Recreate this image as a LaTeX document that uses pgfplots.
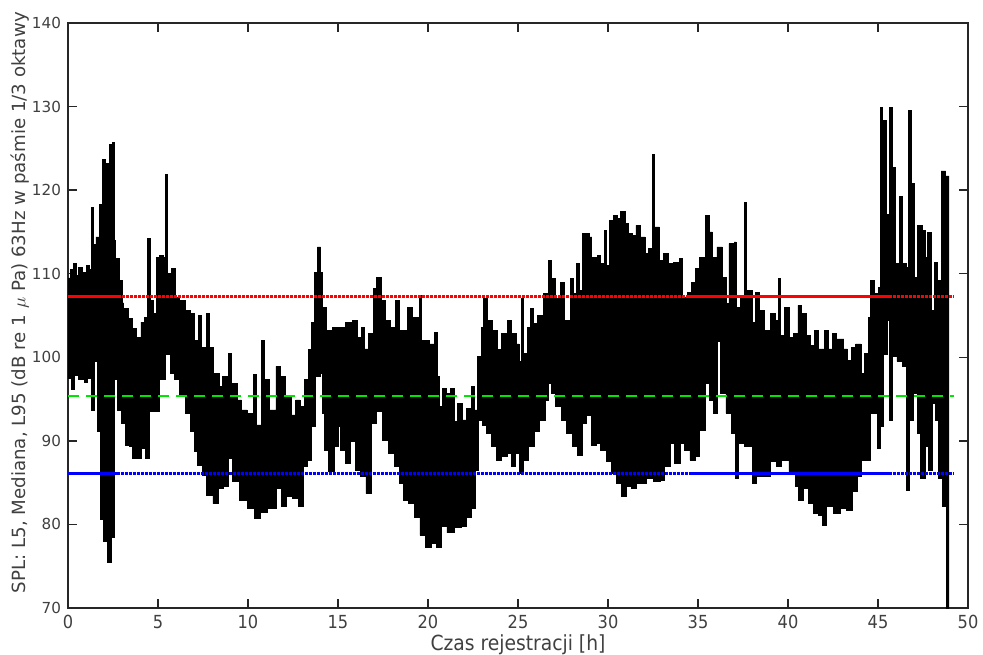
\documentclass[border=0pt]{standalone}
\usepackage{pgfplots}
\pgfplotsset{compat=1.18}
\usepackage{pgfplotstable}
\usepgfplotslibrary{fillbetween}
\usepackage{fontspec}
\setmainfont{DejaVu Sans}
\newfontfamily\condfont{DejaVu Sans Condensed}
\definecolor{txt}{HTML}{404040}
\definecolor{axc}{HTML}{262626}
\definecolor{gr}{HTML}{00E600}

\pgfplotstableread{
h v
0.00 109.5
0.15 110.5
0.30 111.2
0.45 109.8
0.60 110.8
0.80 110.2
1.00 111.0
1.20 110.5
1.30 117.9
1.40 113.5
1.55 114.4
1.75 118.3
1.85 116.0
1.90 123.7
2.05 117.0
2.15 123.2
2.30 125.5
2.45 125.7
2.55 114.0
2.65 111.8
2.85 109.2
3.00 106.5
3.10 105.8
3.35 104.6
3.55 103.4
3.80 102.4
4.05 104.2
4.25 104.8
4.40 114.2
4.55 106.8
4.75 105.2
4.90 112.0
5.10 112.2
5.30 112.0
5.42 121.9
5.52 110.0
5.75 110.6
5.95 107.2
6.20 106.8
6.50 105.6
6.80 105.2
7.00 102.0
7.25 105.0
7.40 101.2
7.70 105.2
7.85 101.2
8.10 98.1
8.40 96.5
8.60 97.7
8.90 100.5
9.10 96.9
9.40 94.9
9.65 93.7
9.95 93.3
10.30 97.9
10.45 91.9
10.75 102.0
10.90 97.3
11.20 93.7
11.55 98.9
11.80 97.7
12.10 95.3
12.40 93.1
12.65 94.9
12.90 94.1
13.15 97.3
13.35 100.9
13.50 104.2
13.68 110.2
13.85 113.2
14.03 110.2
14.15 106.0
14.35 103.2
14.70 103.6
15.10 103.6
15.40 104.2
15.80 104.4
16.10 102.4
16.30 103.6
16.45 101.0
16.70 102.8
16.95 108.2
17.15 109.6
17.40 106.8
17.65 104.4
17.90 103.6
18.20 106.8
18.40 103.2
18.85 106.0
19.15 104.8
19.50 107.4
19.65 102.0
20.05 101.6
20.35 103.0
20.50 97.7
20.65 94.1
20.80 96.3
21.00 95.7
21.25 96.3
21.45 92.3
21.65 94.5
21.90 92.5
22.15 93.9
22.40 96.5
22.55 93.7
22.75 100.1
22.95 103.6
23.10 107.0
23.30 104.4
23.55 103.2
23.85 100.9
24.10 102.8
24.40 104.4
24.65 102.8
24.90 101.6
25.05 99.5
25.18 107.0
25.28 100.5
25.50 103.6
25.70 105.8
25.88 104.0
26.10 105.0
26.40 107.6
26.70 111.6
26.88 109.4
27.08 107.0
27.35 109.0
27.60 104.4
27.90 109.4
28.10 107.6
28.25 111.2
28.40 108.0
28.60 114.8
28.95 114.4
29.10 112.0
29.40 112.2
29.60 111.2
29.78 115.2
29.92 111.0
30.10 116.4
30.30 117.0
30.50 116.6
30.70 117.4
30.95 116.0
31.15 114.8
31.35 114.6
31.55 115.8
31.80 114.4
32.05 112.4
32.25 113.0
32.45 124.3
32.58 115.6
32.85 111.6
33.10 112.4
33.35 111.2
33.65 111.4
33.95 111.8
34.15 107.2
34.40 107.8
34.65 109.0
34.85 110.6
35.10 112.0
35.40 117.0
35.62 115.0
35.80 112.0
36.05 113.2
36.35 109.6
36.55 106.4
36.72 113.6
37.00 113.8
37.12 106.0
37.35 107.0
37.58 118.5
37.70 108.0
38.00 104.2
38.20 107.8
38.40 105.6
38.70 103.2
39.00 105.2
39.30 104.4
39.47 109.4
39.58 102.6
39.80 106.0
40.05 102.4
40.30 102.8
40.55 106.2
40.72 105.2
41.00 102.6
41.25 101.4
41.45 103.2
41.70 101.0
42.00 103.2
42.25 101.0
42.45 102.8
42.70 102.2
43.10 101.0
43.30 99.6
43.50 101.2
43.75 101.6
44.05 98.1
44.25 100.5
44.45 104.8
44.60 109.2
44.80 107.6
45.00 108.4
45.12 129.9
45.25 128.3
45.45 117.1
45.62 129.9
45.78 122.7
45.98 111.2
46.18 119.2
46.35 111.2
46.55 110.8
46.68 129.5
46.85 120.8
47.02 109.6
47.20 115.8
47.45 115.2
47.65 112.0
47.75 114.9
47.95 105.6
48.15 111.4
48.32 109.2
48.50 122.3
48.75 121.7
48.95 121.7
}\upperenv

\pgfplotstableread{
h v
0.00 97.5
0.20 96.1
0.35 97.8
0.60 97.3
0.90 97.0
1.10 97.5
1.30 93.7
1.45 99.5
1.62 91.1
1.78 80.6
1.95 78.0
2.18 75.4
2.40 78.4
2.58 97.3
2.75 93.7
2.95 92.1
3.20 89.5
3.40 89.3
3.60 87.9
4.10 89.1
4.30 87.9
4.50 93.5
5.10 97.3
5.40 100.3
5.70 98.1
5.90 97.3
6.20 95.3
6.50 93.3
6.80 91.1
7.00 88.7
7.20 87.1
7.45 85.9
7.70 83.5
8.05 82.5
8.35 84.3
8.65 84.5
8.92 87.9
9.15 85.1
9.50 82.9
9.95 81.9
10.35 80.7
10.70 81.5
11.10 81.9
11.55 84.3
11.85 82.1
12.15 83.3
12.45 83.1
12.80 82.1
13.05 86.9
13.30 87.7
13.50 91.7
13.75 97.7
14.00 98.1
14.15 93.3
14.25 88.9
14.45 86.3
14.80 89.3
15.00 91.7
15.15 88.9
15.40 87.3
15.70 89.9
15.95 86.5
16.25 85.7
16.55 83.7
16.85 92.1
17.15 93.5
17.45 90.1
17.80 88.5
18.15 86.9
18.40 84.9
18.65 82.9
18.90 82.5
19.25 80.9
19.55 78.7
19.85 77.3
20.20 77.7
20.45 77.3
20.75 79.8
21.05 79.0
21.45 79.6
21.85 79.8
22.15 80.9
22.40 81.9
22.62 86.5
22.82 92.5
23.00 91.9
23.25 90.9
23.50 89.3
23.80 87.7
24.10 88.1
24.40 88.5
24.65 86.9
24.85 88.5
25.10 86.1
25.30 87.7
25.60 89.3
25.90 91.1
26.20 92.5
26.50 94.9
26.70 96.9
26.85 95.7
27.10 94.1
27.40 92.5
27.70 90.9
28.00 89.3
28.30 88.3
28.55 92.1
28.80 93.1
29.10 89.5
29.35 89.7
29.60 88.9
29.90 87.5
30.20 86.1
30.45 84.9
30.75 83.3
31.00 84.5
31.30 84.3
31.55 84.9
31.90 84.9
32.15 85.5
32.50 85.1
32.90 85.3
33.15 86.9
33.45 89.7
33.70 87.3
34.00 89.7
34.25 88.9
34.55 87.7
34.85 88.1
35.10 91.3
35.40 96.9
35.65 94.9
35.85 93.3
36.05 101.9
36.25 95.7
36.55 93.3
36.85 90.9
37.08 85.5
37.25 89.7
37.60 89.3
38.00 84.9
38.25 85.7
38.60 85.7
39.00 87.5
39.35 86.9
39.65 87.7
40.05 86.3
40.40 84.5
40.60 82.9
40.85 84.3
41.15 82.5
41.40 81.3
41.70 81.1
41.90 79.9
42.15 82.1
42.50 81.3
42.90 81.9
43.25 81.7
43.55 83.9
43.85 85.7
44.10 87.7
44.55 93.3
44.95 89.1
45.15 91.7
45.32 100.3
45.52 104.4
45.65 92.5
45.80 100.1
46.05 99.5
46.35 98.9
46.58 84.1
46.72 92.5
46.95 95.7
47.18 90.9
47.35 85.5
47.62 89.3
47.82 86.5
48.00 94.5
48.20 92.5
48.38 85.5
48.58 82.1
48.78 65.0
48.95 65.0
}\lowerenv

\begin{document}
\begin{tikzpicture}
\begin{axis}[
  name=ax,
  scale only axis,
  width=450pt, height=292.5pt,
  xmin=0, xmax=50, ymin=70, ymax=140,
  xtick={0,5,...,50}, ytick={70,80,...,140},
  tick align=inside, xtick pos=both, ytick pos=both,
  xticklabel pos=lower, yticklabel pos=left,
  major tick length=4.5pt,
  axis line style={axc, line width=0.7pt},
  every tick/.style={axc, line width=0.7pt},
  /pgf/number format/assume math mode=true,
  xticklabel style={font=\condfont\fontsize{9}{10}\selectfont, text=txt},
  yticklabel style={font=\fontsize{7.6}{9}\selectfont, text=txt},
  xlabel={Czas rejestracji [h]},
  ylabel={SPL: L5, Mediana, L95 (dB re 1 $\mu$ Pa) 63Hz w paśmie 1/3 oktawy},
  xlabel style={font=\condfont\fontsize{10.4}{12}\selectfont, text=txt, at={(axis description cs:0.5,-0.062)}, anchor=center},
  ylabel style={font=\fontsize{9.1}{11}\selectfont, text=txt, at={(axis description cs:-0.0533,0.522)}, anchor=center},
]
\addplot[name path=U, black, line width=0.4pt, const plot] table[x=h,y=v] {\upperenv};
\addplot[name path=L, black, line width=0.4pt, const plot] table[x=h,y=v] {\lowerenv};
\addplot[black] fill between[of=U and L];
% L5 (red)
\addplot[red, line width=1.5pt] coordinates {(0,107.3) (2.8,107.3)};
\addplot[red, line width=1.5pt, dash pattern=on 1.5pt off 0.5pt] coordinates {(2.8,107.3) (34.4,107.3)};
\addplot[red, line width=1.5pt] coordinates {(34.4,107.3) (45.6,107.3)};
\addplot[red, line width=1.5pt, dash pattern=on 1.5pt off 0.5pt] coordinates {(45.6,107.3) (49.2,107.3)};
% Median (green)
\addplot[gr, line width=1.2pt, dash pattern=on 5.5pt off 3.5pt] coordinates {(0,95.4) (49.2,95.4)};
% L95 (blue)
\addplot[blue, line width=1.5pt] coordinates {(0,86.1) (2.7,86.1)};
\addplot[blue, line width=1.5pt, dash pattern=on 1.5pt off 0.5pt] coordinates {(2.7,86.1) (34.5,86.1)};
\addplot[blue, line width=1.5pt] coordinates {(34.5,86.1) (45.6,86.1)};
\addplot[blue, line width=1.5pt, dash pattern=on 1.5pt off 0.5pt] coordinates {(45.6,86.1) (49.2,86.1)};
\end{axis}
\pgfresetboundingbox
\path (ax.south west) ++(-34pt,-23pt) rectangle ++(491.5pt,327pt);
\end{tikzpicture}
\end{document}
